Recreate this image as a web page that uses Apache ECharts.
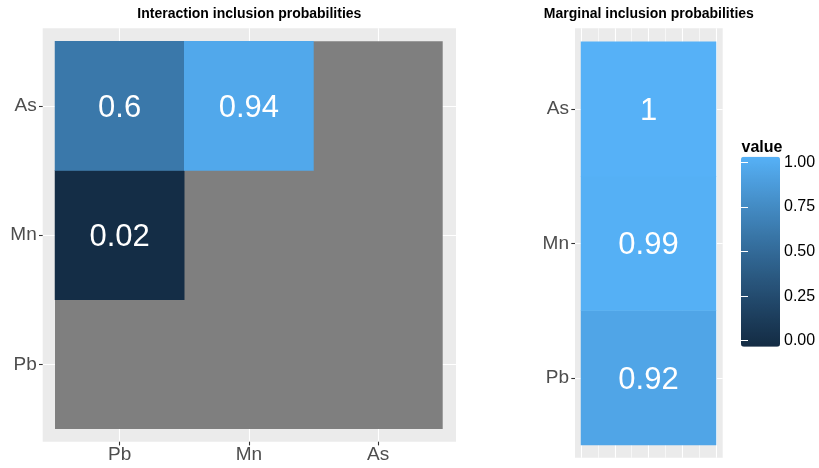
<!DOCTYPE html>
<html>
<head>
<meta charset="utf-8">
<script src="https://cdn.jsdelivr.net/npm/echarts@6/dist/echarts.min.js"></script>
<style>
  html, body { margin: 0; padding: 0; background: #fff; }
  #chart { width: 819px; height: 468px; }
</style>
</head>
<body>
<div id="chart"></div>
<script>
// Elements, bottom-to-top on y and left-to-right on x
const elements = ['Pb', 'Mn', 'As'];

// Pairwise interaction inclusion probabilities, rows follow y (Pb, Mn, As),
// columns follow x (Pb, Mn, As); null = pair not estimated (drawn grey)
const interactionProb = [
  [null, null, null],   // y = Pb
  [0.02, null, null],   // y = Mn
  [0.6,  0.94, null]    // y = As
];

// Marginal inclusion probabilities for Pb, Mn, As
const marginalProb = [0.92, 0.99, 1];

// Colour-bar tick values
const legendTicks = [0, 0.25, 0.5, 0.75, 1];

const FONT = "'Liberation Sans', Arial, Helvetica, sans-serif";
const LOW = '#132B43', HIGH = '#56B1F7', NA_GREY = '#7F7F7F';
const PANEL = '#EBEBEB', GRID_LINE = '#FFFFFF';

// ---- gradient in CIE Lab space (like scale_fill_gradient) ----
function hexToRgb(h) { return [1, 3, 5].map(i => parseInt(h.slice(i, i + 2), 16)); }
function toLin(c) { c /= 255; return c <= 0.04045 ? c / 12.92 : Math.pow((c + 0.055) / 1.055, 2.4); }
function fromLin(c) {
  const v = c <= 0.0031308 ? 12.92 * c : 1.055 * Math.pow(c, 1 / 2.4) - 0.055;
  return Math.round(Math.max(0, Math.min(1, v)) * 255);
}
const WX = 0.95047, WY = 1, WZ = 1.08883, D = 6 / 29;
function f(t) { return t > D * D * D ? Math.cbrt(t) : t / (3 * D * D) + 4 / 29; }
function fi(t) { return t > D ? t * t * t : 3 * D * D * (t - 4 / 29); }
function rgbToLab(rgb) {
  const [r, g, b] = rgb.map(toLin);
  const X = 0.4124564 * r + 0.3575761 * g + 0.1804375 * b;
  const Y = 0.2126729 * r + 0.7151522 * g + 0.0721750 * b;
  const Z = 0.0193339 * r + 0.1191920 * g + 0.9503041 * b;
  const fx = f(X / WX), fy = f(Y / WY), fz = f(Z / WZ);
  return [116 * fy - 16, 500 * (fx - fy), 200 * (fy - fz)];
}
function labToHex(lab) {
  const fy = (lab[0] + 16) / 116, fx = fy + lab[1] / 500, fz = fy - lab[2] / 200;
  const X = WX * fi(fx), Y = WY * fi(fy), Z = WZ * fi(fz);
  const r = 3.2404542 * X - 1.5371385 * Y - 0.4985314 * Z;
  const g = -0.9692660 * X + 1.8760108 * Y + 0.0415560 * Z;
  const b = 0.0556434 * X - 0.2040259 * Y + 1.0572252 * Z;
  return '#' + [r, g, b].map(c => fromLin(c).toString(16).padStart(2, '0')).join('');
}
function labRamp(lo, hi, n) {
  const a = rgbToLab(hexToRgb(lo)), b = rgbToLab(hexToRgb(hi));
  const out = [];
  for (let i = 0; i < n; i++) {
    const t = i / (n - 1);
    out.push(labToHex([0, 1, 2].map(k => a[k] + (b[k] - a[k]) * t)));
  }
  return out;
}
const rampColors = labRamp(LOW, HIGH, 21);

// ---- series data built from the arrays above ----
const interactionData = [];
interactionProb.forEach((row, yi) => row.forEach((v, xi) => {
  if (v !== null) interactionData.push([xi, yi, v]);
}));
const marginalData = marginalProb.map((v, yi) => [0, yi, v]);

// ---- layout (pixels) ----
const L = { px: 42.7, py: 28.3, pw: 413.3, ph: 413.4, tx: 55, ty: 41.2, tw: 387.7, th: 387.7 };
const R = { px: 575, py: 28.3, pw: 147.7, ph: 429.5, tx: 581, ty: 41.7, tw: 135, th: 403.3 };
const lCell = L.tw / 3, rCell = R.th / 3;

const hiddenValue = (gridIndex) => ({ type: 'value', gridIndex, show: false });
const gridLineCat = (gridIndex) => ({
  type: 'category', gridIndex, data: elements, boundaryGap: false,
  axisLine: { show: false }, axisTick: { show: false }, axisLabel: { show: false },
  splitLine: { show: true, interval: 0, lineStyle: { color: GRID_LINE, width: 1.1 } }
});
const axisText = (margin, padding) => ({
  color: '#4D4D4D', fontSize: 19, fontFamily: FONT, interval: 0, margin, padding
});
const labelCat = (gridIndex, extra) => Object.assign({
  type: 'category', gridIndex, data: elements,
  axisLine: { show: false },
  axisTick: { show: true, alignWithLabel: true, length: 3.7, lineStyle: { color: '#333333', width: 1.1 } },
  splitLine: { show: false }
}, extra);

const grids = [
  // left panel: background, vertical lines, horizontal lines, tiles
  { left: L.px, top: L.py, width: L.pw, height: L.ph, show: true, backgroundColor: PANEL, borderWidth: 0 },
  { left: L.tx + lCell / 2, top: L.py, width: L.tw - lCell, height: L.ph },
  { left: L.px, top: L.ty + lCell / 2, width: L.pw, height: L.th - lCell },
  { left: L.tx, top: L.ty, width: L.tw, height: L.th, show: true, backgroundColor: NA_GREY, borderWidth: 0, z: 1 },
  // right panel: background, vertical lines, horizontal lines, tiles
  { left: R.px, top: R.py, width: R.pw, height: R.ph, show: true, backgroundColor: PANEL, borderWidth: 0 },
  { left: R.tx, top: R.py, width: R.tw, height: R.ph },
  { left: R.px, top: R.ty + rCell / 2, width: R.pw, height: R.th - rCell },
  { left: R.tx, top: R.ty, width: R.tw, height: R.th },
  // colour-bar tick scale
  { left: 741, top: 162.3, width: 39, height: 178.4 }
].map(g => Object.assign({ outerBoundsMode: 'none', containLabel: false }, g));

const xAxes = [
  hiddenValue(0),
  gridLineCat(1),
  hiddenValue(2),
  labelCat(3, { position: 'bottom', offset: L.py + L.ph - (L.ty + L.th), axisLabel: axisText(4, 0) }),
  hiddenValue(4),
  { type: 'value', gridIndex: 5, min: -0.5, max: 0.5, interval: 0.25,
    axisLine: { show: false }, axisTick: { show: false }, axisLabel: { show: false },
    splitLine: { show: true, lineStyle: { color: GRID_LINE, width: 1.1 } },
    minorTick: { show: false, splitNumber: 2 },
    minorSplitLine: { show: true, lineStyle: { color: GRID_LINE, width: 0.6 } } },
  hiddenValue(6),
  { type: 'category', gridIndex: 7, data: [''], show: false },
  hiddenValue(8)
];

const yAxes = [
  hiddenValue(0),
  hiddenValue(1),
  gridLineCat(2),
  labelCat(3, { position: 'left', offset: L.tx - L.px, axisLabel: axisText(6, [4, 0, 0, 0]) }),
  hiddenValue(4),
  hiddenValue(5),
  gridLineCat(6),
  labelCat(7, { position: 'left', offset: R.tx - R.px, axisLabel: axisText(6, [4, 0, 0, 0]) }),
  { type: 'value', gridIndex: 8, min: legendTicks[0], max: legendTicks[legendTicks.length - 1],
    interval: legendTicks[1] - legendTicks[0], position: 'right', z: 6,
    axisLine: { show: false }, splitLine: { show: false },
    axisTick: { show: true, inside: true, length: 7, lineStyle: { color: '#FFFFFF', width: 1 } },
    axisLabel: { color: '#000000', fontSize: 16, fontFamily: FONT, margin: 4, padding: [3, 0, 0, 0],
      formatter: v => v.toFixed(2) } },
  { type: 'value', gridIndex: 8, min: legendTicks[0], max: legendTicks[legendTicks.length - 1],
    interval: legendTicks[1] - legendTicks[0], position: 'left', z: 6,
    axisLine: { show: false }, splitLine: { show: false }, axisLabel: { show: false },
    axisTick: { show: true, inside: true, length: 7, lineStyle: { color: '#FFFFFF', width: 1 } } }
];

const cellLabel = {
  show: true, color: '#FFFFFF', fontSize: 31, fontFamily: FONT, offset: [0, 2.5],
  formatter: p => String(p.value[2])
};

const option = {
  animation: false,
  textStyle: { fontFamily: FONT },
  grid: grids,
  xAxis: xAxes,
  yAxis: yAxes,
  visualMap: {
    type: 'continuous', seriesIndex: [0, 1], min: 0, max: 1,
    calculable: false, hoverLink: false, orient: 'vertical',
    left: 741, top: 156.7, itemWidth: 39, itemHeight: 190, padding: 0,
    inRange: { color: rampColors }
  },
  graphic: [
    { type: 'text', x: L.px + L.pw / 2, y: 14.5,
      style: { text: 'Interaction inclusion probabilities', fill: '#000', font: 'bold 14px ' + FONT,
        align: 'center', verticalAlign: 'middle', textAlign: 'center', textVerticalAlign: 'middle' } },
    { type: 'text', x: R.px + R.pw / 2, y: 14.5,
      style: { text: 'Marginal inclusion probabilities', fill: '#000', font: 'bold 14px ' + FONT,
        align: 'center', verticalAlign: 'middle', textAlign: 'center', textVerticalAlign: 'middle' } },
    { type: 'text', x: 741.5, y: 148,
      style: { text: 'value', fill: '#000', font: 'bold 16px ' + FONT,
        align: 'left', verticalAlign: 'middle', textAlign: 'left', textVerticalAlign: 'middle' } }
  ],
  series: [
    { type: 'heatmap', name: 'interaction', xAxisIndex: 3, yAxisIndex: 3,
      data: interactionData, label: cellLabel, emphasis: { disabled: true } },
    { type: 'heatmap', name: 'marginal', xAxisIndex: 7, yAxisIndex: 7,
      data: marginalData, label: cellLabel, emphasis: { disabled: true } }
  ]
};

const chart = echarts.init(document.getElementById('chart'), null, { renderer: 'canvas' });
chart.setOption(option);
</script>
</body>
</html>
